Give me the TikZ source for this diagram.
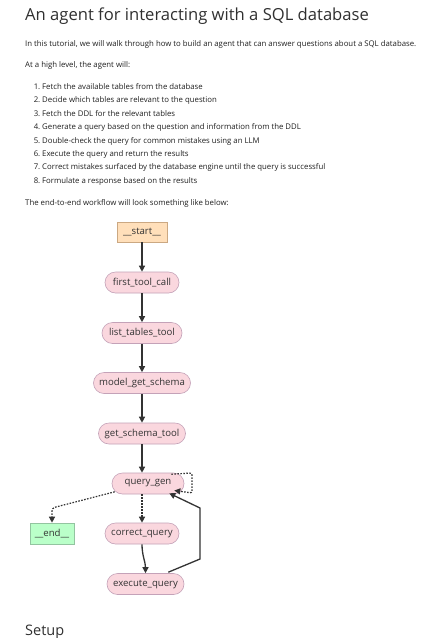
\documentclass[tikz,border=0pt]{standalone}
\usepackage{fontspec}
\setmainfont{Open Sans}
\usetikzlibrary{arrows.meta,calc,positioning}
\definecolor{txt}{HTML}{202020}
\definecolor{ttl}{HTML}{303030}
\definecolor{pinkf}{HTML}{FAD7DE}
\definecolor{pinkd}{HTML}{C4A2B8}
\definecolor{startf}{HTML}{FFDFBA}
\definecolor{startd}{HTML}{CBA882}
\definecolor{endf}{HTML}{BAFFC9}
\definecolor{endd}{HTML}{93C4A0}
\definecolor{edge}{HTML}{333333}
\tikzset{
  body/.style={inner sep=0pt, anchor=base west, text=txt, font=\fontsize{7.8}{9}\selectfont},
  num/.style={inner sep=0pt, anchor=base east, text=txt, font=\fontsize{7.8}{9}\selectfont},
  gnode/.style={draw=pinkd, fill=pinkf, line width=0.6pt, rounded corners=10.5pt, minimum height=21pt, inner sep=0pt, text=edge, font=\fontsize{9.6}{11}\selectfont},
  snode/.style={draw=startd, fill=startf, line width=0.6pt, minimum height=20pt, inner sep=0pt, text=edge, font=\fontsize{9.6}{11}\selectfont},
  enode/.style={draw=endd, fill=endf, line width=0.6pt, minimum height=21pt, inner sep=0pt, text=edge, font=\fontsize{9.6}{11}\selectfont},
  arr/.style={draw=edge, line width=1.3pt, -{Triangle[length=6pt,width=6pt]}},
  dotarr/.style={draw=edge, line width=1.2pt, dash pattern=on 1.6pt off 1.4pt, -{Triangle[length=6pt,width=6pt]}},
}
\begin{document}
\begin{tikzpicture}[x=1pt,y=-1pt]
\useasboundingbox (0,0) rectangle (432,638);
\fill[white] (0,0) rectangle (432,638);
% texts
\node[inner sep=0pt, anchor=base west, text=ttl, font=\fontsize{16.6}{20}\selectfont] (title) at (25,20.5) {An agent for interacting with a SQL database};
\node[body] (p1) at (25,46) {In this tutorial, we will walk through how to build an agent that can answer questions about a SQL database.};
\node[body] (p2) at (25,67.5) {At a high level, the agent will:};
\node[num] (n1) at (40.5,89.5) {1.};
\node[body] (l1) at (42,89.5) {Fetch the available tables from the database};
\node[num] (n2) at (40.5,102.9) {2.};
\node[body] (l2) at (42,102.9) {Decide which tables are relevant to the question};
\node[num] (n3) at (40.5,116.3) {3.};
\node[body] (l3) at (42,116.3) {Fetch the DDL for the relevant tables};
\node[num] (n4) at (40.5,129.7) {4.};
\node[body] (l4) at (42,129.7) {Generate a query based on the question and information from the DDL};
\node[num] (n5) at (40.5,143.1) {5.};
\node[body] (l5) at (42,143.1) {Double-check the query for common mistakes using an LLM};
\node[num] (n6) at (40.5,156.5) {6.};
\node[body] (l6) at (42,156.5) {Execute the query and return the results};
\node[num] (n7) at (40.5,169.9) {7.};
\node[body] (l7) at (42,169.9) {Correct mistakes surfaced by the database engine until the query is successful};
\node[num] (n8) at (40.5,183.3) {8.};
\node[body] (l8) at (42,183.3) {Formulate a response based on the results};
\node[body] (p3) at (25,205) {The end-to-end workflow will look something like below:};
\node[inner sep=0pt, anchor=base west, text=ttl, font=\fontsize{14.5}{17}\selectfont] (setup) at (25,635) {Setup};
% graph nodes
\node[snode, minimum width=50pt] (start) at (142,232) {\_\_start\_\_};
\node[gnode, minimum width=74pt] (ftc) at (142,282.5) {first\_tool\_call};
\node[gnode, minimum width=80pt] (ltt) at (142,333) {list\_tables\_tool};
\node[gnode, minimum width=97pt] (mgs) at (142,383) {model\_get\_schema};
\node[gnode, minimum width=87pt] (gst) at (142,433.5) {get\_schema\_tool};
\node[gnode, minimum width=72pt] (qg) at (148,483.5) {query\_gen};
\node[enode, minimum width=44pt] (end) at (52,533.5) {\_\_end\_\_};
\node[gnode, minimum width=74pt] (cq) at (142,533.5) {correct\_query};
\node[gnode, minimum width=77pt] (eq) at (145.5,584) {execute\_query};
% helper coordinates
\coordinate (e1) at (52,508);
\coordinate (s1) at (192,473);
\coordinate (s2) at (192,493);
\coordinate (x1) at (200,559);
\coordinate (x2) at (200,508);
% edges
\draw[arr] (start) -- (ftc);
\draw[arr] (ftc) -- (ltt);
\draw[arr] (ltt) -- (mgs);
\draw[arr] (mgs) -- (gst);
\draw[arr] (gst.south) -- (gst.south |- qg.north);
\draw[dotarr, rounded corners=3pt] ($(qg.south west)+(3,-2.5)$) -- (e1) -- (end.north);
\draw[dotarr] (qg.south -| cq.north) -- (cq.north);
\draw[dotarr, rounded corners=2pt] ($(qg.north east)+(-13,1.5)$) -- (s1) -- (s2) -- ($(qg.east)+(-10,7)$);
\draw[arr] (cq.south) to[out=-90,in=90] (eq.north);
\draw[draw=edge, line width=1.3pt, -{Triangle[length=6pt,width=6pt]}] ($(eq.north east)+(-16,-1)$) -- (x1) -- (x2) -- ($(qg.south east)+(-15,-1)$);
\end{tikzpicture}
\end{document}
